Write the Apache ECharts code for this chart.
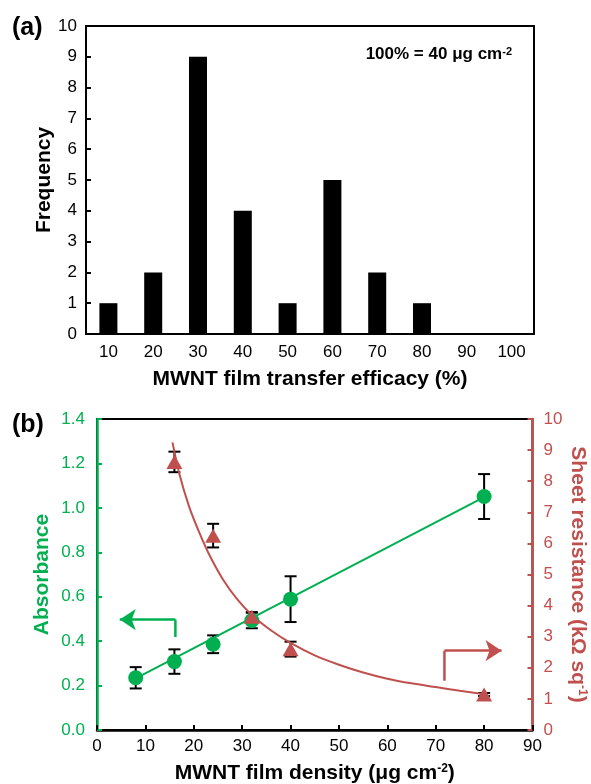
<!DOCTYPE html>
<html>
<head>
<meta charset="utf-8">
<title>MWNT film</title>
<script src="https://cdn.jsdelivr.net/npm/echarts@6/dist/echarts.min.js"></script>
<style>
    html, body { margin: 0; padding: 0; background: #fff; }
    #chart { width: 591px; height: 784px; }
</style>
</head>
<body>
<div id="chart"></div>
<script>
// (a) histogram of transfer efficacy
var efficacyBins = ['10', '20', '30', '40', '50', '60', '70', '80', '90', '100'];
var frequency = [1, 2, 9, 4, 1, 5, 2, 1, 0, 0];

// (b) absorbance vs film density
var density = [8, 16, 24, 32, 40, 80];
var absorbance = [0.235, 0.308, 0.386, 0.493, 0.589, 1.051];
var absorbanceErr = [0.048, 0.055, 0.040, 0.035, 0.103, 0.101];
var absFitX = [8, 80];
var absFit = [0.232, 1.048];

// (b) sheet resistance vs film density
var densityRes = [16, 24, 32, 40, 80];
var resistance = [8.62, 6.25, 3.64, 2.60, 1.14];
var resistanceErr = [0.33, 0.38, 0.15, 0.24, 0.05];
var resFitX = [15.6, 17, 19, 21, 23, 26, 29, 32, 36, 40, 45, 50, 55, 60, 65, 70, 75, 80];
var resFit = [9.25, 8.25, 7.2, 6.4, 5.7, 4.85, 4.2, 3.7, 3.2, 2.8, 2.4, 2.1, 1.85, 1.65, 1.5, 1.38, 1.26, 1.15];

// arrows telling which axis belongs to which series
var absArrow = [[16.2, 0.419], [16.2, 0.497], [4.7, 0.497]];
var resArrow = [[71.8, 1.58], [71.8, 2.55], [83.6, 2.55]];

var GREEN = '#00B050';
var RED = '#C0504D';
var FONT = '"Liberation Sans", Arial, sans-serif';

function pairs(xs, ys) {
    return xs.map(function (x, i) { return [x, ys[i]]; });
}
function errRows(xs, ys, errs) {
    return xs.map(function (x, i) { return [x, ys[i] - errs[i], ys[i] + errs[i]]; });
}
function renderErr(params, api) {
    var x = api.value(0);
    var lo = api.coord([x, api.value(1)]);
    var hi = api.coord([x, api.value(2)]);
    var w = 6;
    var st = { stroke: '#000', lineWidth: 2 };
    return {
        type: 'group',
        children: [
            { type: 'line', shape: { x1: hi[0], y1: hi[1], x2: lo[0], y2: lo[1] }, style: st },
            { type: 'line', shape: { x1: hi[0] - w, y1: hi[1], x2: hi[0] + w, y2: hi[1] }, style: st },
            { type: 'line', shape: { x1: lo[0] - w, y1: lo[1], x2: lo[0] + w, y2: lo[1] }, style: st }
        ]
    };
}
function supRich(color) {
    return {
        sup: { fontSize: 12, fontWeight: 'bold', fontFamily: FONT, color: color, verticalAlign: 'top', lineHeight: 12 }
    };
}

var myChart = echarts.init(document.getElementById('chart'));

var option = {
    animation: false,
    textStyle: { fontFamily: FONT },
    graphic: [
        { type: 'text', left: 12, top: 16, style: { text: '(a)', font: 'bold 25px ' + FONT, fill: '#000' } },
        { type: 'text', left: 12, top: 413, style: { text: '(b)', font: 'bold 25px ' + FONT, fill: '#000' } },
        {
            type: 'text', right: 79, top: 46,
            style: {
                text: '100% = 40 μg cm{sup|-2}',
                font: 'bold 17px ' + FONT,
                fill: '#000',
                rich: { sup: { fontSize: 11, fontWeight: 'bold', fontFamily: FONT, fill: '#000', verticalAlign: 'top', lineHeight: 11 } }
            }
        }
    ],
    grid: [
        { left: 86, top: 26, width: 448, height: 308, outerBoundsMode: 'none', show: true, borderColor: '#000', borderWidth: 2 },
        { left: 97, top: 419, width: 435.5, height: 311, outerBoundsMode: 'none', show: true, borderColor: '#000', borderWidth: 2 }
    ],
    xAxis: [
        {
            type: 'category',
            gridIndex: 0,
            data: efficacyBins,
            axisLine: { lineStyle: { color: '#000', width: 2 } },
            axisTick: { show: false },
            axisLabel: { color: '#000', fontSize: 17, margin: 10 },
            name: 'MWNT film transfer efficacy (%)',
            nameLocation: 'middle',
            nameMoveOverlap: false,
            nameGap: 35,
            nameTextStyle: { color: '#000', fontSize: 21, fontWeight: 'bold' }
        },
        {
            type: 'value',
            gridIndex: 1,
            min: 0,
            max: 90,
            interval: 10,
            splitLine: { show: false },
            axisLine: { lineStyle: { color: '#000', width: 2.5 } },
            axisTick: { inside: true, length: 5, lineStyle: { color: '#000', width: 2 } },
            axisLabel: { color: '#000', fontSize: 17, margin: 8 },
            name: 'MWNT film density (μg cm{sup|-2})',
            nameLocation: 'middle',
            nameMoveOverlap: false,
            nameGap: 33,
            nameTextStyle: { color: '#000', fontSize: 21, fontWeight: 'bold', rich: supRich('#000') }
        }
    ],
    yAxis: [
        {
            type: 'value',
            gridIndex: 0,
            min: 0,
            max: 10,
            interval: 1,
            splitLine: { show: false },
            axisLine: { show: true, lineStyle: { color: '#000', width: 2 } },
            axisTick: { show: true, inside: true, length: 5, lineStyle: { color: '#000', width: 2 } },
            axisLabel: { color: '#000', fontSize: 17, margin: 9 },
            name: 'Frequency',
            nameLocation: 'middle',
            nameMoveOverlap: false,
            nameGap: 31,
            nameTextStyle: { color: '#000', fontSize: 21, fontWeight: 'bold' }
        },
        {
            type: 'value',
            gridIndex: 1,
            position: 'left',
            min: 0,
            max: 1.4,
            interval: 0.2,
            splitLine: { show: false },
            axisLine: { show: true, lineStyle: { color: GREEN, width: 2.5 } },
            axisTick: { show: true, inside: true, length: 5, lineStyle: { color: GREEN, width: 2 } },
            axisLabel: { color: GREEN, fontSize: 17, margin: 12, formatter: function (v) { return v.toFixed(1); } },
            name: 'Absorbance',
            nameLocation: 'middle',
            nameMoveOverlap: false,
            nameGap: 44,
            nameTextStyle: { color: GREEN, fontSize: 21, fontWeight: 'bold' }
        },
        {
            type: 'value',
            gridIndex: 1,
            position: 'right',
            min: 0,
            max: 10,
            interval: 1,
            splitLine: { show: false },
            axisLine: { show: true, lineStyle: { color: RED, width: 2.5 } },
            axisTick: { show: true, inside: true, length: 5, lineStyle: { color: RED, width: 2 } },
            axisLabel: { color: RED, fontSize: 17, margin: 11 },
            name: 'Sheet resistance (kΩ sq{sup|-1})',
            nameLocation: 'middle',
            nameRotate: -90,
            nameMoveOverlap: false,
            nameGap: 35,
            nameTextStyle: { color: RED, fontSize: 21, fontWeight: 'bold', rich: supRich(RED) }
        }
    ],
    series: [
        {
            name: 'Frequency',
            type: 'bar',
            xAxisIndex: 0,
            yAxisIndex: 0,
            barWidth: 18,
            itemStyle: { color: '#000' },
            data: frequency
        },
        {
            name: 'Absorbance error',
            type: 'custom',
            xAxisIndex: 1,
            yAxisIndex: 1,
            renderItem: renderErr,
            encode: { x: 0, y: [1, 2] },
            z: 2,
            data: errRows(density, absorbance, absorbanceErr)
        },
        {
            name: 'Resistance error',
            type: 'custom',
            xAxisIndex: 1,
            yAxisIndex: 2,
            renderItem: renderErr,
            encode: { x: 0, y: [1, 2] },
            z: 2,
            data: errRows(densityRes, resistance, resistanceErr)
        },
        {
            name: 'Resistance fit',
            type: 'line',
            xAxisIndex: 1,
            yAxisIndex: 2,
            smooth: 0.3,
            showSymbol: false,
            lineStyle: { color: RED, width: 2 },
            z: 3,
            data: pairs(resFitX, resFit)
        },
        {
            name: 'Absorbance fit',
            type: 'line',
            xAxisIndex: 1,
            yAxisIndex: 1,
            showSymbol: false,
            lineStyle: { color: GREEN, width: 2 },
            z: 3,
            data: pairs(absFitX, absFit)
        },
        {
            name: 'Absorbance',
            type: 'scatter',
            xAxisIndex: 1,
            yAxisIndex: 1,
            symbol: 'circle',
            symbolSize: 15,
            itemStyle: { color: GREEN, opacity: 1 },
            z: 4,
            data: pairs(density, absorbance)
        },
        {
            name: 'Sheet resistance',
            type: 'scatter',
            xAxisIndex: 1,
            yAxisIndex: 2,
            symbol: 'triangle',
            symbolSize: [16, 14],
            itemStyle: { color: RED, opacity: 1 },
            z: 5,
            data: pairs(densityRes, resistance)
        },
        {
            type: 'line',
            xAxisIndex: 1,
            yAxisIndex: 1,
            showSymbol: false,
            lineStyle: { color: GREEN, width: 2.5 },
            data: absArrow.slice(0, 2)
        },
        {
            type: 'lines',
            coordinateSystem: 'cartesian2d',
            xAxisIndex: 1,
            yAxisIndex: 1,
            symbol: ['none', 'arrow'],
            symbolSize: 16,
            lineStyle: { color: GREEN, width: 2.5, opacity: 1 },
            data: [{ coords: absArrow.slice(1) }]
        },
        {
            type: 'line',
            xAxisIndex: 1,
            yAxisIndex: 2,
            showSymbol: false,
            lineStyle: { color: RED, width: 2.5 },
            data: resArrow.slice(0, 2)
        },
        {
            type: 'lines',
            coordinateSystem: 'cartesian2d',
            xAxisIndex: 1,
            yAxisIndex: 2,
            symbol: ['none', 'arrow'],
            symbolSize: 16,
            lineStyle: { color: RED, width: 2.5, opacity: 1 },
            data: [{ coords: resArrow.slice(1) }]
        }
    ]
};

myChart.setOption(option);
</script>
</body>
</html>
